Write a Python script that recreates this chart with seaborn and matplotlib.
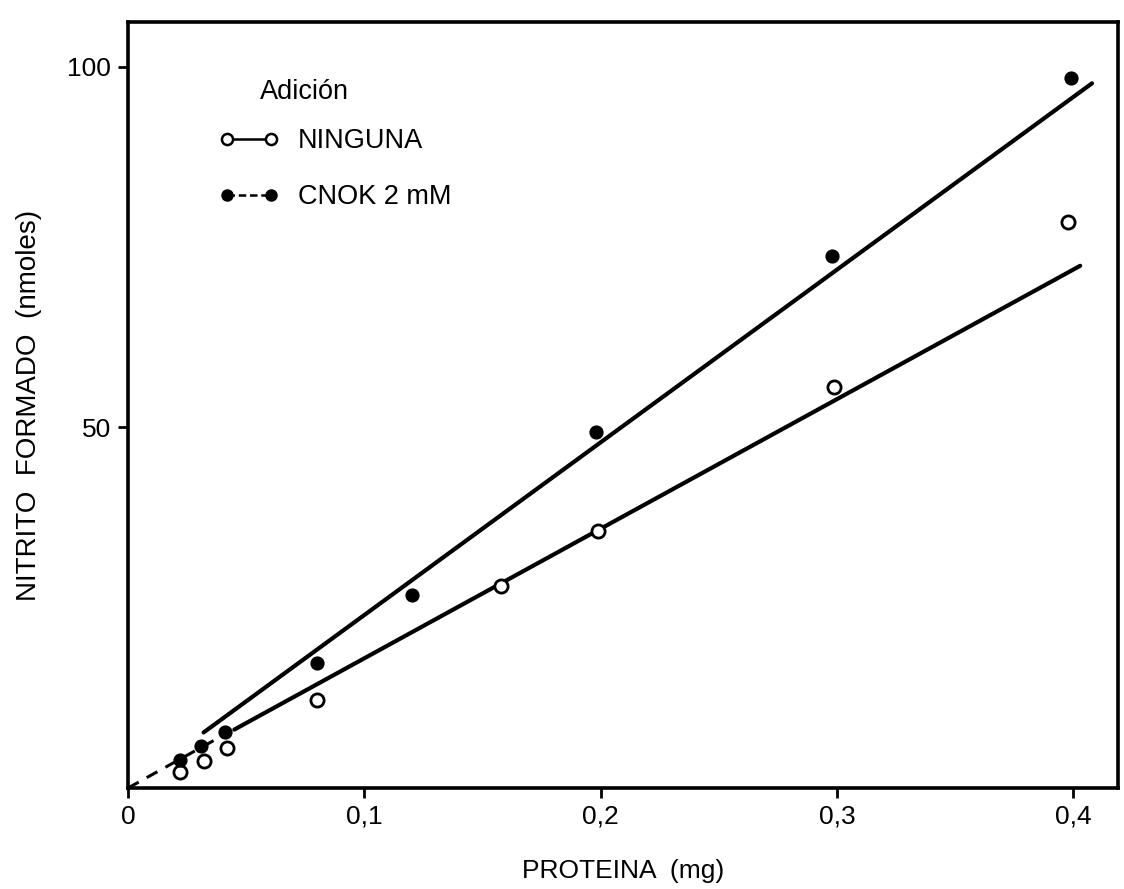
import matplotlib
matplotlib.use("Agg")
import matplotlib.pyplot as plt
from matplotlib.lines import Line2D
import seaborn as sns
import pandas as pd

# ---- data ----
x_ninguna = [0.022, 0.032, 0.042, 0.080, 0.158, 0.199, 0.299, 0.398]
y_ninguna = [2.2, 3.7, 5.6, 12.2, 28.0, 35.6, 55.6, 78.5]
x_cnok = [0.022, 0.031, 0.041, 0.080, 0.120, 0.198, 0.298, 0.399]
y_cnok = [3.9, 5.8, 7.7, 17.3, 26.8, 49.3, 73.7, 98.4]

# fitted lines (endpoints)
fit_ninguna_x = [0.045, 0.403]
fit_ninguna_y = [8.1, 72.4]
fit_cnok_x = [0.032, 0.408]
fit_cnok_y = [7.7, 97.7]
dash_x = [0.0, 0.043]
dash_y = [0.0, 7.8]

xticks = [0, 0.1, 0.2, 0.3, 0.4]
xticklabels = ["0", "0,1", "0,2", "0,3", "0,4"]
yticks = [50, 100]
yticklabels = ["50", "100"]

legend_title = "Adición"
labels = ["NINGUNA", "CNOK 2 mM"]
xlabel = "PROTEINA  (mg)"
ylabel = "NITRITO  FORMADO  (nmoles)"

sns.set_style("ticks")
plt.rcParams["font.family"] = ["Liberation Sans", "DejaVu Sans"]
plt.rcParams["text.color"] = "black"
plt.rcParams["axes.labelcolor"] = "black"
plt.rcParams["xtick.color"] = "black"
plt.rcParams["ytick.color"] = "black"

fig = plt.figure(figsize=(11.24, 8.89), dpi=100)
ax = fig.add_axes([128 / 1124, 1 - 788 / 889, 990 / 1124, 766 / 889])

df_n = pd.DataFrame({"x": x_ninguna, "y": y_ninguna})
df_c = pd.DataFrame({"x": x_cnok, "y": y_cnok})

sns.lineplot(x=fit_ninguna_x, y=fit_ninguna_y, color="black", lw=3.0, ax=ax)
sns.lineplot(x=fit_cnok_x, y=fit_cnok_y, color="black", lw=3.0, ax=ax)
sns.lineplot(x=dash_x, y=dash_y, color="black", lw=2.2, ax=ax)
ax.lines[-1].set_dashes([4, 3])

sns.scatterplot(data=df_n, x="x", y="y", marker="o", s=90, facecolor="white",
                edgecolor="black", linewidth=2.0, ax=ax, zorder=4)
sns.scatterplot(data=df_c, x="x", y="y", marker="o", s=85, color="black",
                edgecolor="black", linewidth=1.0, ax=ax, zorder=4)

ax.set_xlim(0, 0.419)
ax.set_ylim(0, 106.2)
ax.set_xticks(xticks)
ax.set_xticklabels(xticklabels)
ax.set_yticks(yticks)
ax.set_yticklabels(yticklabels)
ax.tick_params(direction="out", length=7, width=2, labelsize=19, pad=5, colors="black")
for sp in ax.spines.values():
    sp.set_visible(True)
    sp.set_linewidth(2.6)
    sp.set_color("black")

ax.set_xlabel(xlabel, fontsize=19, labelpad=22)
ax.set_ylabel(ylabel, fontsize=20, labelpad=18)

handles = [
    Line2D([], [], color="black", lw=1.8, marker="o", markersize=8,
           markerfacecolor="white", markeredgecolor="black", markeredgewidth=1.8),
    Line2D([], [], color="black", lw=1.8, ls=(0, (3, 1.5)), marker="o", markersize=8,
           markerfacecolor="black", markeredgecolor="black"),
]
ax.legend(handles, labels, loc="upper left", bbox_to_anchor=(0.092, 0.861),
          frameon=False, fontsize=19.5, numpoints=2, handlelength=2.2,
          handletextpad=0.7, labelspacing=1.1, borderpad=0, borderaxespad=0)
ax.text(0.1333, 0.9086, legend_title, transform=ax.transAxes, fontsize=19.5,
        ha="left", va="center")

fig.savefig("out.png", dpi=100)
